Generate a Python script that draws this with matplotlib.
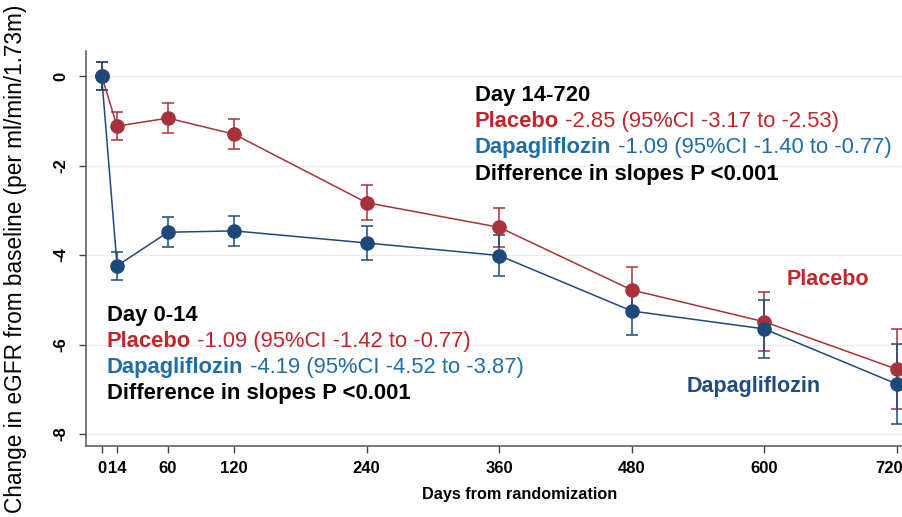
import numpy as np
import matplotlib
matplotlib.use('Agg')
import matplotlib.pyplot as plt
from matplotlib.transforms import ScaledTranslation

# ─── data ────────────────────────────────────────────────────────────────────
days = [0, 14, 60, 120, 240, 360, 480, 600, 720]

placebo     = [0.0, -1.12, -0.94, -1.30, -2.83, -3.38, -4.78, -5.49, -6.55]
placebo_err = [0.31, 0.32, 0.33, 0.34, 0.39, 0.44, 0.52, 0.66, 0.90]

dapa        = [0.0, -4.24, -3.49, -3.46, -3.73, -4.01, -5.25, -5.65, -6.88]
dapa_err    = [0.31, 0.31, 0.33, 0.34, 0.39, 0.45, 0.54, 0.65, 0.89]

xticks  = [0, 14, 60, 120, 240, 360, 480, 600, 720]
xlabels = ['0', '14', '60', '120', '240', '360', '480', '600', '720']
yticks  = [0, -2, -4, -6, -8]

RED, BLUE = '#a8323a', '#1d4a7a'
RED_TXT, BLUE_TXT, BLUE_LBL = '#c0272d', '#1f6ea6', '#1f4d80'

plt.rcParams['font.family'] = ['Liberation Sans', 'DejaVu Sans']

fig = plt.figure(figsize=(9.02, 5.17), dpi=100)
ax = fig.add_axes([0.0953, 0.1379, 0.9047, 0.7635])

for vals, err, col in [(placebo, placebo_err, RED), (dapa, dapa_err, BLUE)]:
    ax.errorbar(days, vals, yerr=err, color=col, lw=1.1, elinewidth=1.1,
                capsize=4.5, capthick=1.1, marker='o', ms=9.5,
                mfc=col, mec=col, zorder=3)

ax.set_xlim(-14.2, 724.8)
ax.set_ylim(-8.26, 0.56)
ax.set_xticks(xticks)
ax.set_xticklabels(xlabels, fontweight='bold', fontsize=12)
ax.set_yticks(yticks)
ax.set_yticklabels([str(t) for t in yticks], fontweight='bold', fontsize=12,
                   rotation=90, va='center')
ax.tick_params(direction='out', length=5, color='#444444', width=1)
ax.tick_params(axis='y', pad=8)
ax.tick_params(axis='x', pad=6)
# last label sits at the figure edge; nudge it inside
lab720 = ax.get_xticklabels()[-1]
lab720.set_transform(lab720.get_transform() +
                     ScaledTranslation(-8 / 100, 0, fig.dpi_scale_trans))
ax.grid(axis='y', color='#ececec', lw=0.9)
ax.set_axisbelow(True)
for s in ['top', 'right']:
    ax.spines[s].set_visible(False)
for s in ['left', 'bottom']:
    ax.spines[s].set_color('#555555')
    ax.spines[s].set_linewidth(1.1)

ax.set_xlabel('Days from randomization', fontweight='bold', fontsize=11.7)
ax.xaxis.set_label_coords((520 - 86) / 816.0, -0.105)
fig.text(0.017, 0.499, 'Change in eGFR from baseline (per ml/min/1.73m)',
         rotation=90, ha='center', va='center', fontsize=16.3)


def mixed_line(x, y, parts, size=15.8):
    """Draw a row of text pieces one after another in figure pixels."""
    fig.canvas.draw()
    r = fig.canvas.get_renderer()
    cur = x
    for txt, col, wt in parts:
        t = fig.text(cur / 902.0, 1 - y / 517.0, txt, color=col,
                     fontweight=wt, fontsize=size, va='center', ha='left')
        cur += t.get_window_extent(r).width


upper = [
    (95.0, [('Day 14-720', 'black', 'bold')]),
    (121.7, [('Placebo', RED_TXT, 'bold'),
             (' -2.85 (95%CI -3.17 to -2.53)', RED_TXT, 'normal')]),
    (148.0, [('Dapagliflozin', BLUE_TXT, 'bold'),
             (' -1.09 (95%CI -1.40 to -0.77)', BLUE_TXT, 'normal')]),
    (174.5, [('Difference in slopes P <0.001', 'black', 'bold')]),
]
lower = [
    (315.0, [('Day 0-14', 'black', 'bold')]),
    (341.7, [('Placebo', RED_TXT, 'bold'),
             (' -1.09 (95%CI -1.42 to -0.77)', RED_TXT, 'normal')]),
    (368.0, [('Dapagliflozin', BLUE_TXT, 'bold'),
             (' -4.19 (95%CI -4.52 to -3.87)', BLUE_TXT, 'normal')]),
    (393.0, [('Difference in slopes P <0.001', 'black', 'bold')]),
]
for y, parts in upper:
    mixed_line(475, y, parts)
for y, parts in lower:
    mixed_line(107, y, parts)

fig.text(786.5 / 902, 1 - 279.5 / 517, 'Placebo', color=RED_TXT,
         fontweight='bold', fontsize=15.5, va='center', ha='left')
fig.text(687 / 902, 1 - 386.7 / 517, 'Dapagliflozin', color=BLUE_LBL,
         fontweight='bold', fontsize=15.5, va='center', ha='left')

fig.savefig('out.png', dpi=100)
